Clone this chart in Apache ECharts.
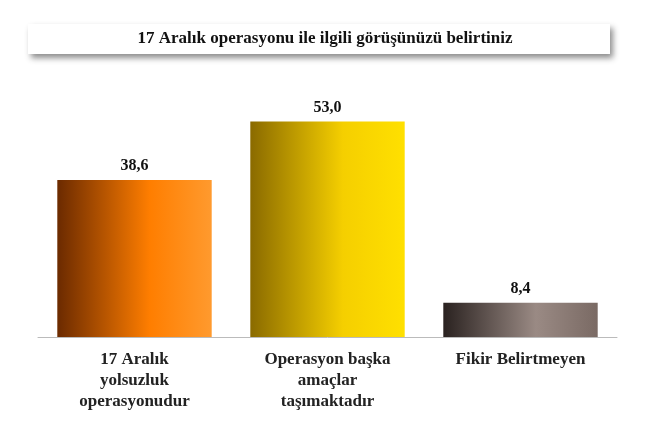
<!DOCTYPE html>
<html><head><meta charset="utf-8">
<script src="https://cdn.jsdelivr.net/npm/echarts@6/dist/echarts.min.js"></script>
<style>html,body{margin:0;padding:0;background:#fff}#main{width:650px;height:442px}</style>
</head><body><div id="main"></div>
<script>
var categories = ['17 Aralık\nyolsuzluk\noperasyonudur', 'Operasyon başka\namaçlar\ntaşımaktadır', 'Fikir Belirtmeyen'];
var values = [38.6, 53.0, 8.4];
var titleText = '17 Aralık operasyonu ile ilgili görüşünüzü belirtiniz';

function grad(a, b, c) {
    return new echarts.graphic.LinearGradient(0, 0, 1, 0, [
        {offset: 0, color: a}, {offset: 0.6, color: b}, {offset: 1, color: c}
    ]);
}
var fills = [
    grad('#6b2a00', '#ff7e00', '#ff9a2e'),
    grad('#8a6a00', '#f5cf00', '#ffe000'),
    grad('#2a2220', '#9a8a84', '#7a6a64')
];

var myChart = echarts.init(document.getElementById('main'));
myChart.setOption({
    animation: false,
    graphic: [{
        type: 'rect', left: 28, top: 24,
        shape: {width: 582, height: 30},
        style: {fill: '#fff', shadowBlur: 6, shadowOffsetX: 3, shadowOffsetY: 4, shadowColor: 'rgba(0,0,0,0.45)'}
    }, {
        type: 'text', left: 'center', top: 30,
        style: {text: titleText, font: 'bold 17px "Liberation Serif", serif', fill: '#111'}
    }],
    grid: {left: 38, right: 33, top: 93, bottom: 105},
    xAxis: {
        type: 'category', data: categories,
        axisLine: {lineStyle: {color: '#bbb'}},
        axisTick: {show: false},
        axisLabel: {color: '#222', fontSize: 17, fontWeight: 'bold', fontFamily: 'Liberation Serif', lineHeight: 21, margin: 12, interval: 0}
    },
    yAxis: {type: 'value', min: 0, max: 60, show: false},
    series: [{
        type: 'bar', barWidth: '80%',
        data: values.map(function (v, i) { return {value: v, itemStyle: {color: fills[i]}}; }),
        label: {
            show: true, position: 'top', distance: 6, color: '#111',
            fontSize: 16, fontWeight: 'bold', fontFamily: 'Liberation Serif',
            formatter: function (p) { return p.value.toFixed(1).replace('.', ','); }
        }
    }]
});
</script></body></html>
